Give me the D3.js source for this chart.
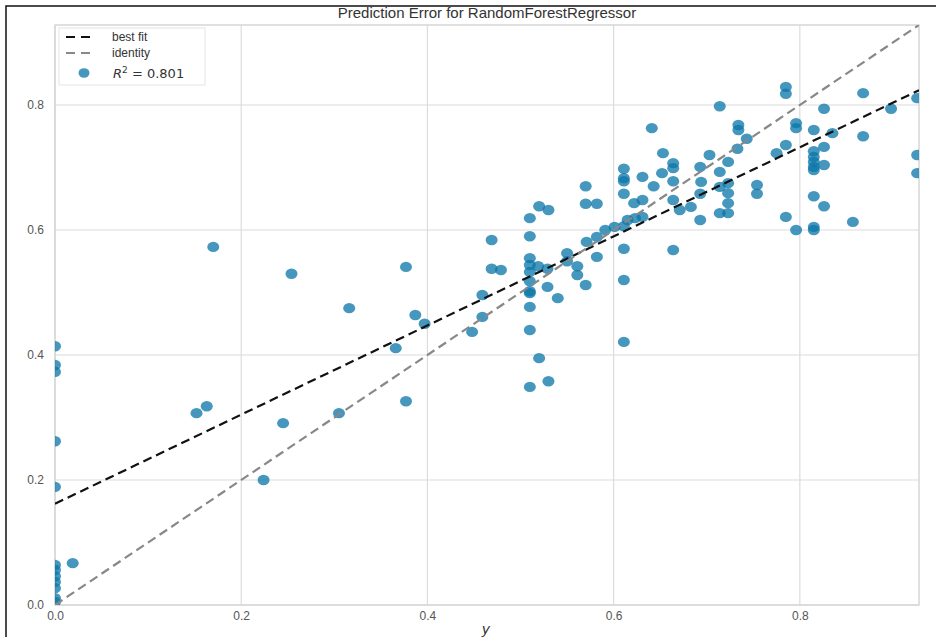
<!DOCTYPE html>
<html>
<head>
<meta charset="utf-8">
<script src="https://cdn.jsdelivr.net/npm/d3@7"></script>
<style>
  body { margin: 0; background: #fff; }
  svg { display: block; }
</style>
</head>
<body>
<svg width="936" height="637"></svg>
<script>
// actual y values (x axis)
var actual = [
  0, 0, 0, 0, 0, 0, 0, 0, 0, 0, 0, 0,
  0.019, 0.170, 0.152, 0.163, 0.224, 0.245, 0.254, 0.305, 0.316, 0.377,
  0.377, 0.366, 0.387, 0.397, 0.448, 0.459, 0.459, 0.469, 0.469, 0.479,
  0.510, 0.510, 0.510, 0.510, 0.510, 0.510, 0.510, 0.510, 0.510, 0.510, 0.510,
  0.520, 0.530, 0.519, 0.520, 0.529, 0.529, 0.530, 0.540, 0.550, 0.550,
  0.561, 0.561, 0.570, 0.570, 0.570, 0.571, 0.582, 0.582, 0.582, 0.591,
  0.601, 0.611, 0.611, 0.611, 0.611, 0.611, 0.611, 0.611, 0.611, 0.615,
  0.623, 0.622, 0.631, 0.631, 0.631, 0.641, 0.643, 0.652, 0.653, 0.664,
  0.664, 0.664, 0.664, 0.664, 0.671, 0.683, 0.693, 0.694, 0.693, 0.693,
  0.703, 0.714, 0.714, 0.714, 0.714, 0.723, 0.723, 0.723, 0.723, 0.723,
  0.734, 0.734, 0.733, 0.743, 0.754, 0.754, 0.775, 0.785, 0.785, 0.785,
  0.785, 0.796, 0.796, 0.796, 0.815, 0.815, 0.815, 0.815, 0.815, 0.815,
  0.815, 0.815, 0.815, 0.826, 0.826, 0.826, 0.826, 0.835, 0.857, 0.868,
  0.868, 0.898, 0.926, 0.926, 0.926
];
// predicted values (y axis)
var predicted = [
  0.414, 0.384, 0.373, 0.262, 0.189, 0.064, 0.056, 0.046, 0.037, 0.027, 0.011, 0.005,
  0.067, 0.573, 0.307, 0.318, 0.200, 0.291, 0.530, 0.307, 0.475, 0.541,
  0.326, 0.411, 0.464, 0.450, 0.437, 0.496, 0.461, 0.584, 0.538, 0.536,
  0.619, 0.590, 0.555, 0.544, 0.533, 0.518, 0.502, 0.499, 0.477, 0.440, 0.349,
  0.638, 0.632, 0.542, 0.395, 0.538, 0.509, 0.358, 0.491, 0.563, 0.550,
  0.542, 0.528, 0.670, 0.642, 0.512, 0.581, 0.642, 0.589, 0.557, 0.600,
  0.605, 0.606, 0.698, 0.683, 0.678, 0.658, 0.570, 0.520, 0.421, 0.616,
  0.619, 0.643, 0.685, 0.648, 0.621, 0.763, 0.670, 0.691, 0.723, 0.707,
  0.699, 0.678, 0.648, 0.568, 0.632, 0.637, 0.701, 0.677, 0.658, 0.616,
  0.720, 0.693, 0.669, 0.627, 0.798, 0.709, 0.675, 0.659, 0.643, 0.627,
  0.768, 0.760, 0.730, 0.746, 0.672, 0.658, 0.723, 0.829, 0.818, 0.736,
  0.621, 0.771, 0.763, 0.600, 0.760, 0.726, 0.717, 0.709, 0.701, 0.696,
  0.654, 0.605, 0.600, 0.794, 0.733, 0.704, 0.638, 0.755, 0.613, 0.819,
  0.750, 0.794, 0.811, 0.720, 0.691
];
var bestFit = { intercept: 0.162, slope: 0.713 };
var r2 = "0.801";
var tickValues = [0, 0.2, 0.4, 0.6, 0.8];
var axisMax = 0.928;

var points = actual.map(function(d, i) { return [d, predicted[i]]; });

var svg = d3.select("svg");
var plotLeft = 55, plotTop = 25, plotRight = 919, plotBottom = 605;

var x = d3.scaleLinear().domain([0, axisMax]).range([plotLeft, plotRight]);
var y = d3.scaleLinear().domain([0, axisMax]).range([plotBottom, plotTop]);

// outer frame of the screenshot
svg.append("path")
  .attr("d", "M6,637V6H936")
  .attr("fill", "none")
  .attr("stroke", "#111")
  .attr("stroke-width", 1.5);

svg.append("defs").append("clipPath").attr("id", "plotclip")
  .append("rect")
  .attr("x", plotLeft).attr("y", plotTop)
  .attr("width", plotRight - plotLeft).attr("height", plotBottom - plotTop);

// grid
var grid = svg.append("g");
grid.selectAll(".gx").data(tickValues).enter().append("line")
  .attr("x1", function(d) { return x(d); }).attr("x2", function(d) { return x(d); })
  .attr("y1", plotTop).attr("y2", plotBottom)
  .attr("stroke", "#dcdcdc").attr("stroke-width", 1.2);
grid.selectAll(".gy").data(tickValues).enter().append("line")
  .attr("y1", function(d) { return y(d); }).attr("y2", function(d) { return y(d); })
  .attr("x1", plotLeft).attr("x2", plotRight)
  .attr("stroke", "#dcdcdc").attr("stroke-width", 1.2);

// plot frame
svg.append("rect")
  .attr("x", plotLeft).attr("y", plotTop)
  .attr("width", plotRight - plotLeft).attr("height", plotBottom - plotTop)
  .attr("fill", "none").attr("stroke", "#d6d6d6").attr("stroke-width", 1.5);

// axes (labels only)
var xAxis = svg.append("g")
  .attr("transform", "translate(0," + plotBottom + ")")
  .call(d3.axisBottom(x).tickValues(tickValues).tickFormat(d3.format(".1f")).tickSize(0).tickPadding(6));
var yAxis = svg.append("g")
  .attr("transform", "translate(" + plotLeft + ",0)")
  .call(d3.axisLeft(y).tickValues(tickValues).tickFormat(d3.format(".1f")).tickSize(0).tickPadding(11));
[xAxis, yAxis].forEach(function(a) {
  a.select(".domain").remove();
  a.selectAll("text")
    .style("font-family", "Liberation Sans, Arial, sans-serif")
    .style("font-size", "12px")
    .attr("fill", "#555");
});

var plot = svg.append("g").attr("clip-path", "url(#plotclip)");

// points
plot.selectAll("ellipse").data(points).enter().append("ellipse")
  .attr("cx", function(d) { return x(d[0]); })
  .attr("cy", function(d) { return y(d[1]); })
  .attr("rx", 6).attr("ry", 5.2)
  .attr("fill", "#0b76a8")
  .attr("fill-opacity", 0.76);

// best fit line
plot.append("path")
  .datum([0, axisMax])
  .attr("fill", "none")
  .attr("stroke", "#111")
  .attr("stroke-width", 2.2)
  .attr("stroke-dasharray", "9,5")
  .attr("d", d3.line()
    .x(function(d) { return x(d); })
    .y(function(d) { return y(bestFit.intercept + bestFit.slope * d); }));

// identity line
plot.append("path")
  .datum([0, axisMax])
  .attr("fill", "none")
  .attr("stroke", "#888")
  .attr("stroke-width", 2.2)
  .attr("stroke-dasharray", "9,5")
  .attr("d", d3.line()
    .x(function(d) { return x(d); })
    .y(function(d) { return y(d); }));

// title
svg.append("text")
  .attr("x", 487).attr("y", 18)
  .attr("text-anchor", "middle")
  .style("font-family", "Liberation Sans, Arial, sans-serif")
  .style("font-size", "15px")
  .attr("fill", "#333")
  .text("Prediction Error for RandomForestRegressor");

// x label
svg.append("text")
  .attr("x", 486).attr("y", 634)
  .attr("text-anchor", "middle")
  .style("font-family", "DejaVu Sans, sans-serif")
  .style("font-size", "14px")
  .style("font-style", "italic")
  .attr("fill", "#333")
  .text("y");

// legend
var lg = svg.append("g");
lg.append("rect")
  .attr("x", 59).attr("y", 28).attr("width", 146).attr("height", 57)
  .attr("fill", "#fff").attr("stroke", "#e4e4e4").attr("stroke-width", 1);
lg.append("line").attr("x1", 66).attr("x2", 90).attr("y1", 37).attr("y2", 37)
  .attr("stroke", "#111").attr("stroke-width", 2.2).attr("stroke-dasharray", "9,6");
lg.append("line").attr("x1", 66).attr("x2", 90).attr("y1", 53).attr("y2", 53)
  .attr("stroke", "#888").attr("stroke-width", 2.2).attr("stroke-dasharray", "9,6");
lg.append("ellipse").attr("cx", 84).attr("cy", 73).attr("rx", 5.5).attr("ry", 4.8)
  .attr("fill", "#0b76a8").attr("fill-opacity", 0.76);
var lgText = [["best fit", 41], ["identity", 57]];
lgText.forEach(function(t) {
  lg.append("text").attr("x", 112).attr("y", t[1])
    .style("font-family", "Liberation Sans, Arial, sans-serif")
    .style("font-size", "12px").attr("fill", "#333").text(t[0]);
});
var rt = lg.append("text").attr("x", 113).attr("y", 78)
  .style("font-family", "DejaVu Sans, sans-serif")
  .style("font-size", "13px").attr("fill", "#333");
rt.append("tspan").style("font-style", "italic").text("R");
rt.append("tspan").attr("dy", -5).style("font-size", "9px").text("2");
rt.append("tspan").attr("dy", 5).text(" = " + r2);
</script>
</body>
</html>
